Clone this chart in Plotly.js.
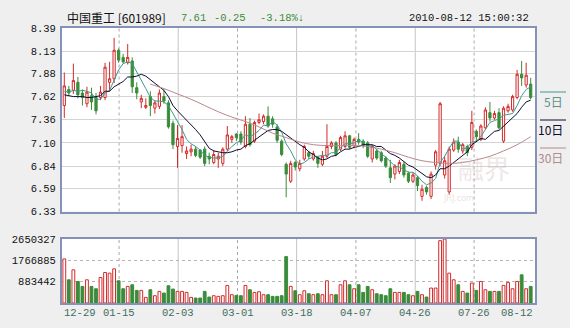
<!DOCTYPE html>
<html>
<head>
<meta charset="utf-8">
<script src="https://cdn.plot.ly/plotly-3.0.1.min.js"></script>
<style>
html,body{margin:0;padding:0;background:#efefef;}
#chart{width:570px;height:328px;}
</style>
</head>
<body>
<div id="chart"></div>
<script>
// ---- data (index 0 = 2009-12-29 ... 103 = 2010-08-12) ----
const openP = [7.52,7.70,7.69,7.78,7.66,7.54,7.63,7.61,7.61,7.61,7.78,7.82,8.14,8.06,8.00,8.02,7.72,7.56,7.50,7.62,
7.49,7.51,7.62,7.55,7.32,7.06,7.07,6.98,7.00,7.03,7.02,7.03,6.95,6.88,6.92,6.87,7.03,7.14,7.20,7.20,
7.06,7.31,7.12,7.33,7.34,7.40,7.37,7.28,7.12,6.86,6.67,6.88,6.81,6.92,6.99,6.92,6.94,6.86,6.95,7.06,
7.10,7.03,7.06,7.18,7.07,7.14,7.12,7.10,6.92,7.01,6.99,6.93,6.82,6.75,6.78,6.86,6.76,6.67,6.71,6.50,
6.60,6.50,6.85,6.87,6.74,6.55,7.02,7.11,7.01,7.06,7.05,7.23,7.14,7.27,7.44,7.38,7.44,7.12,7.46,7.47,
7.61,7.87,7.75,7.76];
const highP = [7.89,7.74,7.99,7.84,7.70,7.73,7.72,7.66,7.74,8.00,8.01,8.28,8.16,8.10,8.21,8.06,7.78,7.64,7.60,7.68,
7.58,7.70,7.70,7.58,7.35,7.30,7.30,7.06,7.08,7.06,7.03,7.06,6.99,7.02,6.99,7.05,7.29,7.19,7.21,7.23,
7.40,7.38,7.35,7.43,7.42,7.51,7.40,7.31,7.14,6.88,6.90,6.90,6.91,7.08,7.01,7.01,6.95,7.01,7.31,7.12,
7.12,7.18,7.23,7.19,7.16,7.21,7.14,7.12,7.08,7.03,7.01,6.95,6.91,6.86,6.91,6.89,6.78,6.77,6.73,6.63,
6.62,6.78,7.02,7.56,6.95,7.06,7.15,7.17,7.10,7.08,7.46,7.25,7.31,7.50,7.56,7.46,7.49,7.51,7.54,7.64,
7.92,8.02,8.00,7.83];
const lowP = [7.38,7.63,7.65,7.60,7.52,7.50,7.47,7.42,7.58,7.58,7.68,7.77,8.00,7.99,7.98,7.66,7.59,7.49,7.48,7.40,
7.43,7.48,7.54,7.26,7.03,6.82,6.99,6.92,6.95,6.94,6.92,6.84,6.86,6.86,6.82,6.84,7.01,7.10,7.12,7.08,
7.04,7.06,7.10,7.31,7.31,7.27,7.27,7.10,6.95,6.49,6.65,6.79,6.78,6.90,6.92,6.90,6.82,6.84,6.93,7.03,
6.95,7.01,7.04,7.03,7.04,7.08,7.04,6.93,6.88,6.91,6.88,6.82,6.65,6.69,6.75,6.71,6.65,6.65,6.56,6.45,
6.52,6.47,6.80,6.84,6.70,6.52,7.00,6.99,6.98,6.95,7.02,7.12,7.12,7.25,7.34,7.36,7.25,7.10,7.44,7.45,
7.59,7.74,7.72,7.59];
const closeP = [7.74,7.66,7.80,7.64,7.61,7.67,7.56,7.46,7.67,7.95,7.82,8.14,8.03,8.01,8.06,7.73,7.66,7.60,7.52,7.52,
7.55,7.66,7.57,7.28,7.08,7.15,7.17,7.01,7.03,6.96,6.94,6.87,6.92,6.97,6.95,7.03,7.19,7.17,7.16,7.11,
7.31,7.08,7.33,7.36,7.40,7.29,7.31,7.13,6.97,6.75,6.87,6.83,6.87,7.06,6.95,6.98,6.87,6.95,7.06,7.10,
6.97,7.16,7.18,7.05,7.14,7.11,7.07,6.95,7.06,6.93,6.90,6.84,6.71,6.84,6.88,6.74,6.67,6.74,6.62,6.58,
6.55,6.75,7.00,7.54,6.90,7.03,7.11,7.03,7.08,6.99,7.33,7.17,7.29,7.47,7.38,7.43,7.27,7.49,7.51,7.62,
7.87,7.83,7.86,7.61];
const volume = [1826000,961000,1373000,893000,687000,961000,687000,590000,1057000,1263000,1236000,1414000,920000,590000,687000,755000,522000,522000,233000,549000,
302000,481000,412000,714000,577000,481000,481000,439000,233000,206000,206000,481000,247000,302000,275000,302000,728000,343000,316000,302000,
728000,549000,439000,467000,343000,343000,275000,275000,302000,1922000,687000,508000,343000,508000,384000,343000,384000,343000,920000,343000,
343000,755000,920000,755000,590000,755000,439000,687000,549000,384000,343000,302000,590000,439000,439000,439000,343000,302000,481000,343000,
247000,618000,618000,2582000,2650327,1236000,961000,755000,481000,412000,824000,522000,893000,549000,481000,481000,481000,728000,851000,590000,
893000,1167000,590000,687000];
// moving averages
const ma5 = [7.68,7.67,7.69,7.68,7.69,7.68,7.66,7.59,7.59,7.66,7.69,7.81,7.92,7.99,8.01,7.99,7.90,7.81,7.71,7.61,
7.57,7.57,7.56,7.52,7.43,7.35,7.25,7.14,7.09,7.06,7.02,6.96,6.94,6.93,6.93,6.95,7.01,7.06,7.10,7.13,
7.19,7.17,7.20,7.24,7.30,7.29,7.34,7.30,7.22,7.09,7.01,6.91,6.86,6.88,6.92,6.94,6.95,6.96,6.96,6.99,
6.99,7.05,7.09,7.09,7.10,7.13,7.11,7.06,7.07,7.02,6.98,6.94,6.89,6.84,6.83,6.80,6.77,6.77,6.73,6.67,
6.63,6.65,6.70,6.88,6.95,7.04,7.12,7.12,7.03,7.05,7.11,7.12,7.17,7.25,7.33,7.35,7.37,7.41,7.42,7.43,
7.52,7.63,7.70,7.73];
const ma10 = [7.64,7.63,7.62,7.62,7.62,7.61,7.61,7.62,7.63,7.68,7.68,7.73,7.76,7.79,7.84,7.84,7.85,7.87,7.85,7.81,
7.78,7.73,7.69,7.62,7.52,7.46,7.41,7.35,7.30,7.25,7.19,7.11,7.04,7.01,7.00,6.99,6.99,7.00,7.02,7.03,
7.07,7.09,7.13,7.17,7.21,7.24,7.25,7.25,7.23,7.19,7.15,7.12,7.08,7.05,7.00,6.97,6.93,6.91,6.92,6.95,
6.96,7.00,7.03,7.03,7.05,7.06,7.08,7.08,7.08,7.06,7.06,7.02,6.98,6.96,6.93,6.89,6.85,6.83,6.79,6.75,
6.72,6.71,6.74,6.81,6.81,6.84,6.88,6.91,6.96,7.00,7.08,7.12,7.15,7.14,7.19,7.23,7.24,7.29,7.33,7.38,
7.43,7.50,7.56,7.58];
const ma30Days = [19,22,25,28,31,34,37,40,43,46,49,52,55,58,61,64,67,70,73,76,79,82,85,88,91,94,97,100,103];
const ma30 = [7.76,7.71,7.65,7.59,7.52,7.45,7.39,7.34,7.28,7.21,7.16,7.11,7.08,7.07,7.07,7.07,7.06,7.03,6.99,6.94,
6.90,6.88,6.87,6.88,6.91,6.95,7.01,7.08,7.17];

const priceTicks = [6.33,6.59,6.84,7.10,7.36,7.62,7.88,8.13,8.39];
const priceTickText = ['6.33','6.59','6.84','7.10','7.36','7.62','7.88','8.13','8.39'];
const volTicks = [883442,1766885,2650327];
const volTickText = ['883442','1766885','2650327'];
const dateLabels = ['12-29','01-15','02-03','03-01','03-18','04-07','04-26','07-26','08-12'];
const legendLabels = ['5日','10日','30日'];

// ---- styling ----
const RED = '#d42a2a', GREEN = '#3a8c3a';
const C5 = '#3f9a8e', C10 = '#0c0c30', C30 = '#b9878d';
const BORDER = '#8591b6';
const days = closeP.map((_, i) => i);
const gridPos = [12.1, 25.15, 38.25, 51.3, 64.4, 77.5, 90.5]; // vertical grid positions (day index)
const XR = [-0.51, 103.95];
const PX = px => (px - 62) / 473;
const PY = py => (303 - py) / 275;

const isUp = days.map(i => closeP[i] >= openP[i]);

const traces = [
  {
    type: 'candlestick', x: days, open: openP, high: highP, low: lowP, close: closeP,
    xaxis: 'x', yaxis: 'y', hoverinfo: 'none', whiskerwidth: 0,
    increasing: {line: {color: RED, width: 1}, fillcolor: '#ffffff'},
    decreasing: {line: {color: GREEN, width: 1}, fillcolor: GREEN}
  },
  {type: 'scatter', mode: 'lines', x: days, y: ma5, xaxis: 'x', yaxis: 'y',
   line: {color: C5, width: 1}, hoverinfo: 'skip'},
  {type: 'scatter', mode: 'lines', x: days, y: ma10, xaxis: 'x', yaxis: 'y',
   line: {color: C10, width: 1}, hoverinfo: 'skip'},
  {type: 'scatter', mode: 'lines', x: ma30Days, y: ma30, xaxis: 'x', yaxis: 'y',
   line: {color: C30, width: 1, shape: 'spline'}, hoverinfo: 'skip'},
  {
    type: 'bar', x: days, y: volume, xaxis: 'x2', yaxis: 'y2', width: 0.62,
    marker: {color: isUp.map(u => u ? '#ffffff' : GREEN),
             line: {color: isUp.map(u => u ? RED : GREEN), width: 1}},
    hoverinfo: 'skip'
  }
];

const shapes = [];
gridPos.forEach((g, k) => {
  const dash = (k % 2 === 0) ? 'dot' : 'solid';
  const col = (k % 2 === 0) ? '#a9a9a9' : '#c4c4c4';
  shapes.push({type: 'line', xref: 'x', yref: 'y domain', x0: g, x1: g, y0: 0, y1: 1,
               line: {color: col, width: 1, dash: dash}, layer: 'below'});
  shapes.push({type: 'line', xref: 'x2', yref: 'y2 domain', x0: g, x1: g, y0: 0, y1: 1,
               line: {color: col, width: 1, dash: dash}, layer: 'below'});
});
// legend strokes on the right
const legendColors = [C5, C10, C30];
const legendY = [92, 120, 148];
legendLabels.forEach((t, k) => {
  shapes.push({type: 'line', xref: 'paper', yref: 'paper', x0: PX(540), x1: PX(566),
               y0: PY(legendY[k]), y1: PY(legendY[k]), line: {color: legendColors[k], width: 1}});
});

const mono = 'Liberation Mono, DejaVu Sans Mono, monospace';
const cjk = 'Noto Sans CJK SC, sans-serif';
const annotations = [];
// date labels under the volume panel
dateLabels.forEach((d, k) => {
  let x, anchor;
  if (k === 0) { x = XR[0]; anchor = 'left'; }
  else if (k === dateLabels.length - 1) { x = XR[1]; anchor = 'right'; }
  else { x = gridPos[k - 1]; anchor = 'center'; }
  annotations.push({xref: 'x2', yref: 'paper', x: x, y: PY(313), text: d, showarrow: false,
    xanchor: anchor, yanchor: 'middle', font: {family: mono, size: 10.5, color: '#3e6d5c'}});
});
// header
annotations.push({xref: 'paper', yref: 'paper', x: PX(65), y: PY(18), xanchor: 'left', yanchor: 'middle',
  text: '中国重工 [601989]', showarrow: false, font: {family: cjk, size: 12, color: '#111'}});
annotations.push({xref: 'paper', yref: 'paper', x: PX(179), y: PY(18), xanchor: 'left', yanchor: 'middle',
  text: '7.61', showarrow: false, font: {family: mono, size: 10.5, color: GREEN}});
annotations.push({xref: 'paper', yref: 'paper', x: PX(212), y: PY(18), xanchor: 'left', yanchor: 'middle',
  text: '-0.25', showarrow: false, font: {family: mono, size: 10.5, color: GREEN}});
annotations.push({xref: 'paper', yref: 'paper', x: PX(258), y: PY(18), xanchor: 'left', yanchor: 'middle',
  text: '-3.18%↓', showarrow: false, font: {family: mono, size: 10.5, color: GREEN}});
annotations.push({xref: 'paper', yref: 'paper', x: PX(531), y: PY(18), xanchor: 'right', yanchor: 'middle',
  text: '2010-08-12 15:00:32', showarrow: false, font: {family: mono, size: 10.5, color: '#111'}});
// legend texts
const legendTextColors = ['#5f918d', '#0c0c30', '#b08a8e'];
legendLabels.forEach((t, k) => {
  annotations.push({xref: 'paper', yref: 'paper', x: PX(565), y: PY(legendY[k] + 9), xanchor: 'right',
    yanchor: 'middle', text: t, showarrow: false, font: {family: cjk, size: 12, color: legendTextColors[k]}});
});
// watermark
annotations.push({xref: 'paper', yref: 'paper', x: PX(484), y: PY(168), xanchor: 'center', yanchor: 'middle',
  text: '融界', showarrow: false, font: {family: cjk, size: 26, color: 'rgba(205,185,185,0.35)'}});
annotations.push({xref: 'paper', yref: 'paper', x: PX(458), y: PY(198), xanchor: 'center', yanchor: 'middle',
  text: 'JRJ.com', showarrow: false, font: {family: 'DejaVu Sans, sans-serif', size: 8, color: 'rgba(205,185,185,0.45)'}});

const axisLine = {showline: true, mirror: true, linecolor: BORDER, linewidth: 2, zeroline: false, fixedrange: true};

const layout = {
  width: 570, height: 328,
  margin: {l: 62, r: 35, t: 28, b: 25, pad: 0},
  paper_bgcolor: '#efefef', plot_bgcolor: '#ffffff',
  showlegend: false, dragmode: false,
  xaxis: Object.assign({domain: [0, 1], anchor: 'y', range: XR, showgrid: false, showticklabels: false,
    ticks: '', rangeslider: {visible: false}}, axisLine),
  yaxis: Object.assign({domain: [0.3327, 1], anchor: 'x', range: [6.33, 8.39], tickvals: priceTicks,
    ticktext: priceTickText, ticks: '', showgrid: true, gridcolor: '#d4d4d4', gridwidth: 1,
    ticklabelstandoff: 2, tickfont: {family: mono, size: 10.5, color: '#111'}}, axisLine),
  xaxis2: Object.assign({domain: [0, 1], anchor: 'y2', range: XR, matches: 'x', showgrid: false,
    showticklabels: false, ticks: ''}, axisLine),
  yaxis2: Object.assign({domain: [0, 0.2327], anchor: 'x2', range: [0, 2650327], tickvals: volTicks,
    ticktext: volTickText, ticks: '', showgrid: true, gridcolor: '#b4b4b4', griddash: 'dot',
    ticklabelstandoff: 2, tickfont: {family: mono, size: 10.5, color: '#111'}}, axisLine),
  shapes: shapes,
  annotations: annotations,
  bargap: 0
};

Plotly.newPlot('chart', traces, layout, {displayModeBar: false, staticPlot: true});
</script>
</body>
</html>
